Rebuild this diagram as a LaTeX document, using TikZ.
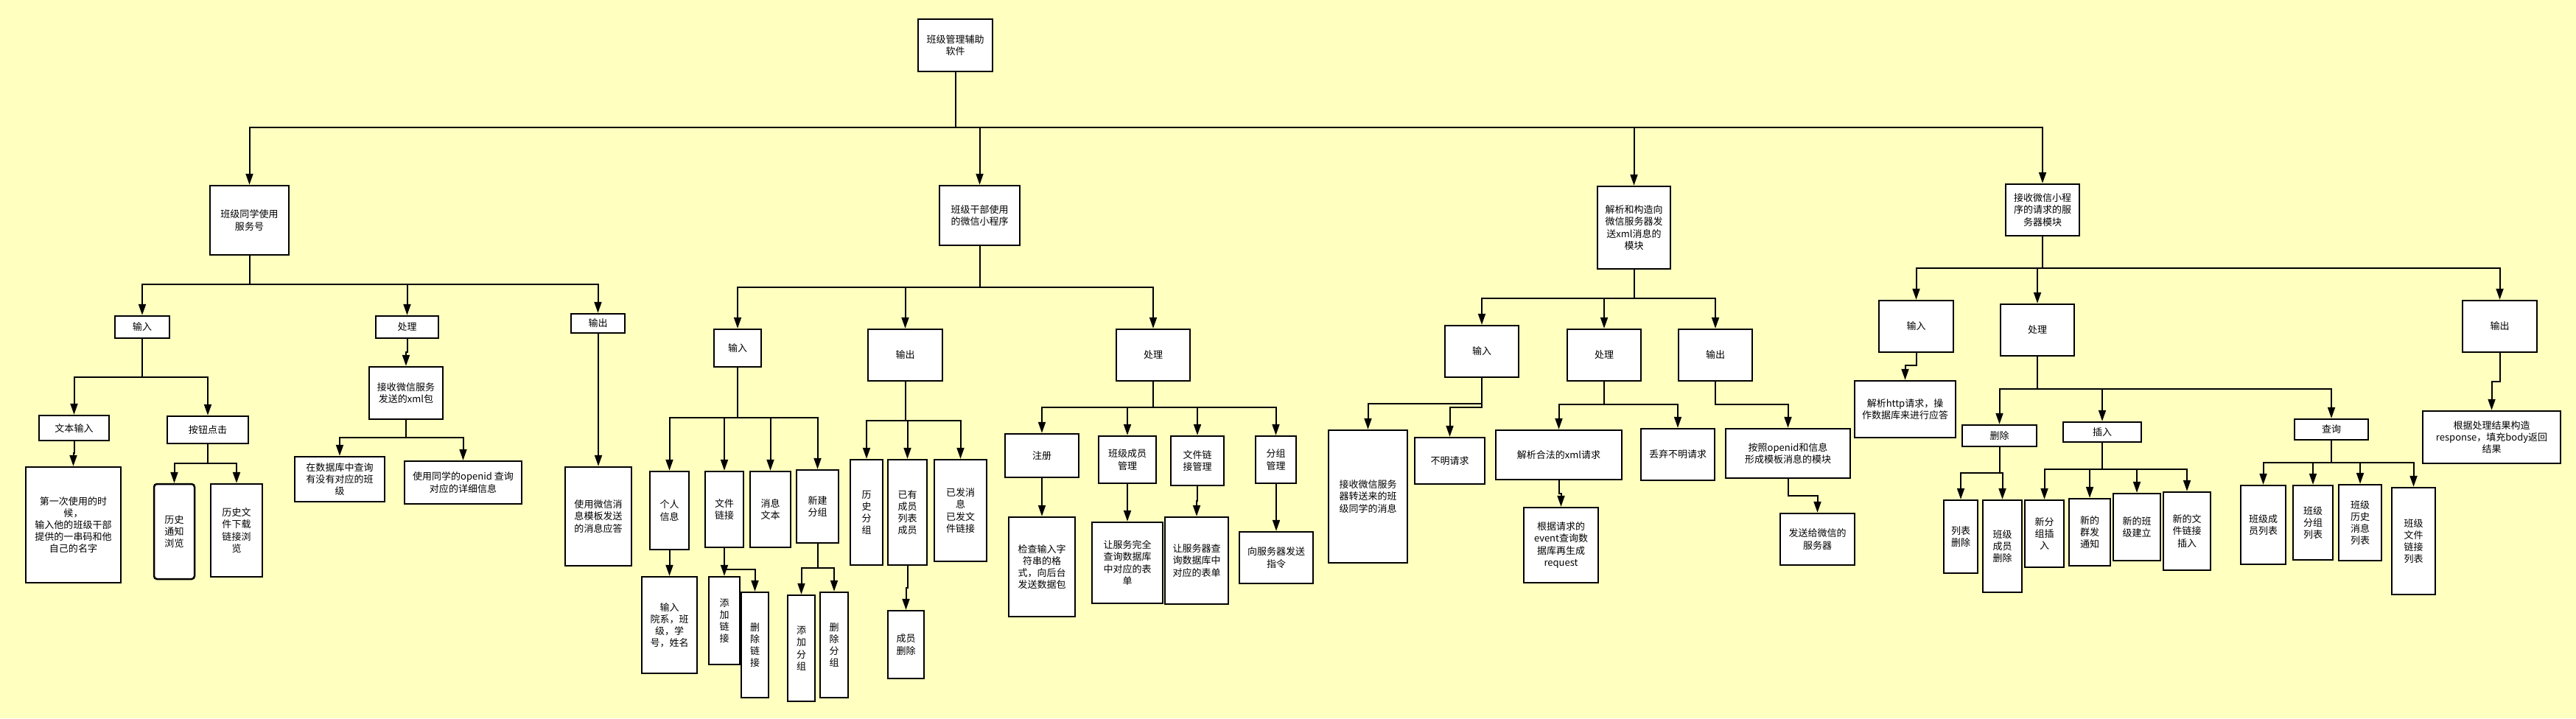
\documentclass[tikz,border=0pt]{standalone}
\usepackage{fontspec}
\newfontfamily\cjkfont{Noto Sans CJK SC}
\usetikzlibrary{arrows.meta}
\definecolor{paper}{RGB}{255,255,192}

\begin{document}
\begin{tikzpicture}
    \fill[paper] (0,0) rectangle (34.96,-9.75);
    \useasboundingbox (0,0) rectangle (34.96,-9.75);

    \begin{scope}[every node/.style={rectangle,draw,line width=0.025cm,fill=white,
        inner sep=0pt,align=center,font=\cjkfont\fontsize{3.7}{4.6}\selectfont},
        sz/.style 2 args={minimum width=#1cm,minimum height=#2cm}]
      \node[sz={1.01}{0.71}] (top) at (12.965,-0.615) {班级管理辅助\\软件};

      \node[sz={1.07}{0.94}] (svc) at (3.385,-2.99) {班级同学使用\\服务号};
      \node[sz={1.09}{0.81}] (mini) at (13.295,-2.925) {班级干部使用\\的微信小程序};
      \node[sz={0.99}{1.12}] (xml) at (22.175,-3.09) {解析和构造向\\微信服务器发\\送xml消息的\\模块};
      \node[sz={1.00}{0.70}] (srv) at (27.72,-2.85) {接收微信小程\\序的请求的服\\务器模块};

      \node[sz={0.74}{0.30}] (svcIn) at (1.93,-4.44) {输入};
      \node[sz={0.85}{0.30}] (svcProc) at (5.525,-4.44) {处理};
      \node[sz={0.73}{0.26}] (svcOut) at (8.115,-4.39) {输出};
      \node[sz={0.95}{0.34}] (svcText) at (1.005,-5.81) {文本输入};
      \node[sz={1.10}{0.37}] (svcBtn) at (2.82,-5.835) {按钮点击};
      \node[sz={1.29}{1.57}] (svcFirst) at (0.995,-7.125) {第一次使用的时\\候，\\输入他的班级干部\\提供的一串码和他\\自己的名字};
      \node[sz={0.55}{1.29},rounded corners=0.04cm] (svcHistNote) at (2.365,-7.215) {历史\\通知\\浏览};
      \node[sz={0.70}{1.26}] (svcHistFile) at (3.21,-7.20) {历史文\\件下载\\链接浏\\览};
      \node[sz={1.00}{0.71}] (svcRecv) at (5.51,-5.335) {接收微信服务\\发送的xml包};
      \node[sz={1.22}{0.61}] (svcClass) at (4.61,-6.505) {在数据库中查询\\有没有对应的班\\级};
      \node[sz={1.59}{0.58}] (svcDetail) at (6.285,-6.55) {使用同学的openid 查询\\对应的详细信息};
      \node[sz={0.90}{1.34}] (svcReply) at (8.12,-7.01) {使用微信消\\息模板发送\\的消息应答};

      \node[sz={0.64}{0.51}] (miniIn) at (10.01,-4.725) {输入};
      \node[sz={1.01}{0.70}] (miniOut) at (12.285,-4.82) {输出};
      \node[sz={1.00}{0.70}] (miniProc) at (15.65,-4.82) {处理};
      \node[sz={0.53}{1.06}] (miniInfo) at (9.085,-6.93) {个人\\信息};
      \node[sz={0.52}{1.03}] (miniLink) at (9.83,-6.915) {文件\\链接};
      \node[sz={0.55}{1.03}] (miniMsg) at (10.455,-6.915) {消息\\文本};
      \node[sz={0.57}{0.99}] (miniGrp) at (11.095,-6.875) {新建\\分组};
      \node[sz={0.75}{1.31}] (miniInfoIn) at (9.085,-8.485) {输入\\院系，班\\级，学\\号，姓名};
      \node[sz={0.42}{1.19}] (miniLinkAdd) at (9.83,-8.425) {添\\加\\链\\接};
      \node[sz={0.37}{1.43}] (miniLinkDel) at (10.245,-8.755) {删\\除\\链\\接};
      \node[sz={0.37}{1.44}] (miniGrpAdd) at (10.875,-8.80) {添\\加\\分\\组};
      \node[sz={0.38}{1.43}] (miniGrpDel) at (11.32,-8.755) {删\\除\\分\\组};
      \node[sz={0.44}{1.43}] (miniHistGrp) at (11.76,-6.955) {历\\史\\分\\组};
      \node[sz={0.53}{1.43}] (miniMembers) at (12.315,-6.955) {已有\\成员\\列表\\成员};
      \node[sz={0.71}{1.38}] (miniSent) at (13.035,-6.93) {已发消\\息\\已发文\\件链接};
      \node[sz={0.49}{0.92}] (miniMemDel) at (12.295,-8.75) {成员\\删除};
      \node[sz={1.00}{0.59}] (miniReg) at (14.14,-6.185) {注册};
      \node[sz={0.78}{0.64}] (miniMemMgr) at (15.30,-6.24) {班级成员\\管理};
      \node[sz={0.72}{0.67}] (miniLinkMgr) at (16.25,-6.255) {文件链\\接管理};
      \node[sz={0.55}{0.64}] (miniGrpMgr) at (17.315,-6.24) {分组\\管理};
      \node[sz={0.90}{1.35}] (miniRegChk) at (14.14,-7.695) {检查输入字\\符串的格\\式，向后台\\发送数据包};
      \node[sz={0.96}{1.10}] (miniMemQry) at (15.30,-7.64) {让服务完全\\查询数据库\\中对应的表\\单};
      \node[sz={0.86}{1.18}] (miniLinkQry) at (16.24,-7.61) {让服务器查\\询数据库中\\对应的表单};
      \node[sz={1.00}{0.70}] (miniGrpCmd) at (17.32,-7.57) {向服务器发送\\指令};

      \node[sz={1.00}{0.70}] (xmlIn) at (20.11,-4.77) {输入};
      \node[sz={1.00}{0.70}] (xmlProc) at (21.77,-4.82) {处理};
      \node[sz={1.00}{0.70}] (xmlOut) at (23.28,-4.82) {输出};
      \node[sz={1.07}{1.80}] (xmlRecv) at (18.565,-6.74) {接收微信服务\\器转送来的班\\级同学的消息};
      \node[sz={0.95}{0.63}] (xmlUnknown) at (19.675,-6.255) {不明请求};
      \node[sz={1.71}{0.67}] (xmlParse) at (21.155,-6.175) {解析合法的xml请求};
      \node[sz={1.00}{0.70}] (xmlDrop) at (22.77,-6.17) {丢弃不明请求};
      \node[sz={1.01}{1.02}] (xmlEvent) at (21.185,-7.40) {根据请求的\\event查询数\\据库再生成\\request};
      \node[sz={1.69}{0.67}] (xmlTpl) at (24.265,-6.155) {按照openid和信息\\形成模板消息的模块};
      \node[sz={1.01}{0.70}] (xmlSend) at (24.665,-7.32) {发送给微信的\\服务器};

      \node[sz={1.01}{0.70}] (srvIn) at (26.005,-4.43) {输入};
      \node[sz={1.00}{0.70}] (srvProc) at (27.65,-4.48) {处理};
      \node[sz={1.01}{0.70}] (srvOut) at (33.925,-4.43) {输出};
      \node[sz={1.37}{0.77}] (srvHttp) at (25.855,-5.555) {解析http请求，操\\作数据库来进行应答};
      \node[sz={1.87}{0.71}] (srvResp) at (33.815,-5.935) {根据处理结果构造\\response，填充body返回\\结果};
      \node[sz={1.01}{0.29}] (srvDel) at (27.135,-5.915) {删除};
      \node[sz={1.06}{0.27}] (srvIns) at (28.53,-5.865) {插入};
      \node[sz={1.00}{0.28}] (srvQry) at (31.64,-5.83) {查询};
      \node[sz={0.46}{0.99}] (srvDelList) at (26.61,-7.285) {列表\\删除};
      \node[sz={0.53}{1.25}] (srvDelMem) at (27.175,-7.415) {班级\\成员\\删除};
      \node[sz={0.53}{0.91}] (srvInsGrp) at (27.745,-7.245) {新分\\组插\\入};
      \node[sz={0.56}{0.91}] (srvInsNote) at (28.36,-7.225) {新的\\群发\\通知};
      \node[sz={0.64}{0.91}] (srvInsClass) at (29.00,-7.155) {新的班\\级建立};
      \node[sz={0.64}{1.06}] (srvInsLink) at (29.68,-7.21) {新的文\\件链接\\插入};
      \node[sz={0.61}{1.07}] (srvQryMem) at (30.715,-7.125) {班级成\\员列表};
      \node[sz={0.54}{1.01}] (srvQryGrp) at (31.39,-7.095) {班级\\分组\\列表};
      \node[sz={0.58}{1.03}] (srvQryMsg) at (32.03,-7.095) {班级\\历史\\消息\\列表};
      \node[sz={0.59}{1.45}] (srvQryLink) at (32.755,-7.345) {班级\\文件\\链接\\列表};
    \end{scope}

    \begin{scope}[>={Triangle[length=0.15cm,width=0.10cm]}, line width=0.02cm]
      \foreach \p/\c/\y in {top/svc/1.73, top/mini/1.73, top/xml/1.73, top/srv/1.73,
          svc/svcIn/3.86, svc/svcProc/3.86, svc/svcOut/3.86,
          svcIn/svcText/5.12, svcIn/svcBtn/5.12, svcText/svcFirst/6.15,
          svcBtn/svcHistNote/6.29, svcBtn/svcHistFile/6.29,
          svcProc/svcRecv/4.78, svcRecv/svcClass/5.94, svcRecv/svcDetail/5.94,
          svcOut/svcReply/5.40,
          mini/miniIn/3.90, mini/miniOut/3.90, mini/miniProc/3.90,
          miniIn/miniInfo/5.67, miniIn/miniLink/5.67, miniIn/miniMsg/5.67, miniIn/miniGrp/5.67,
          miniInfo/miniInfoIn/7.65, miniLink/miniLinkAdd/7.73, miniLink/miniLinkDel/7.73,
          miniGrp/miniGrpAdd/7.71, miniGrp/miniGrpDel/7.71,
          miniOut/miniHistGrp/5.71, miniOut/miniMembers/5.71, miniOut/miniSent/5.71,
          miniMembers/miniMemDel/7.98,
          miniProc/miniReg/5.53, miniProc/miniMemMgr/5.53, miniProc/miniLinkMgr/5.53, miniProc/miniGrpMgr/5.53,
          miniReg/miniRegChk/6.75, miniMemMgr/miniMemQry/6.80, miniLinkMgr/miniLinkQry/6.80, miniGrpMgr/miniGrpCmd/6.90,
          xml/xmlIn/4.05, xml/xmlProc/4.05, xml/xmlOut/4.05,
          xmlIn/xmlRecv/5.48, xmlIn/xmlUnknown/5.53,
          xmlProc/xmlParse/5.49, xmlProc/xmlDrop/5.49, xmlOut/xmlTpl/5.49,
          xmlParse/xmlEvent/6.70, xmlTpl/xmlSend/6.73,
          srv/srvIn/3.64, srv/srvProc/3.64, srv/srvOut/3.64,
          srvIn/srvHttp/4.96, srvOut/srvResp/5.18,
          srvProc/srvDel/5.28, srvProc/srvIns/5.28, srvProc/srvQry/5.28,
          srvDel/srvDelList/6.42, srvDel/srvDelMem/6.42,
          srvIns/srvInsGrp/6.37, srvIns/srvInsNote/6.37, srvIns/srvInsClass/6.37, srvIns/srvInsLink/6.37,
          srvQry/srvQryMem/6.28, srvQry/srvQryGrp/6.28, srvQry/srvQryMsg/6.28, srvQry/srvQryLink/6.28}
      {
        \coordinate (bus) at (0,-\y);
        \draw[->] (\p.south) |- (\c.north |- bus) -- (\c.north);
      }
    \end{scope}
\end{tikzpicture}
\end{document}
